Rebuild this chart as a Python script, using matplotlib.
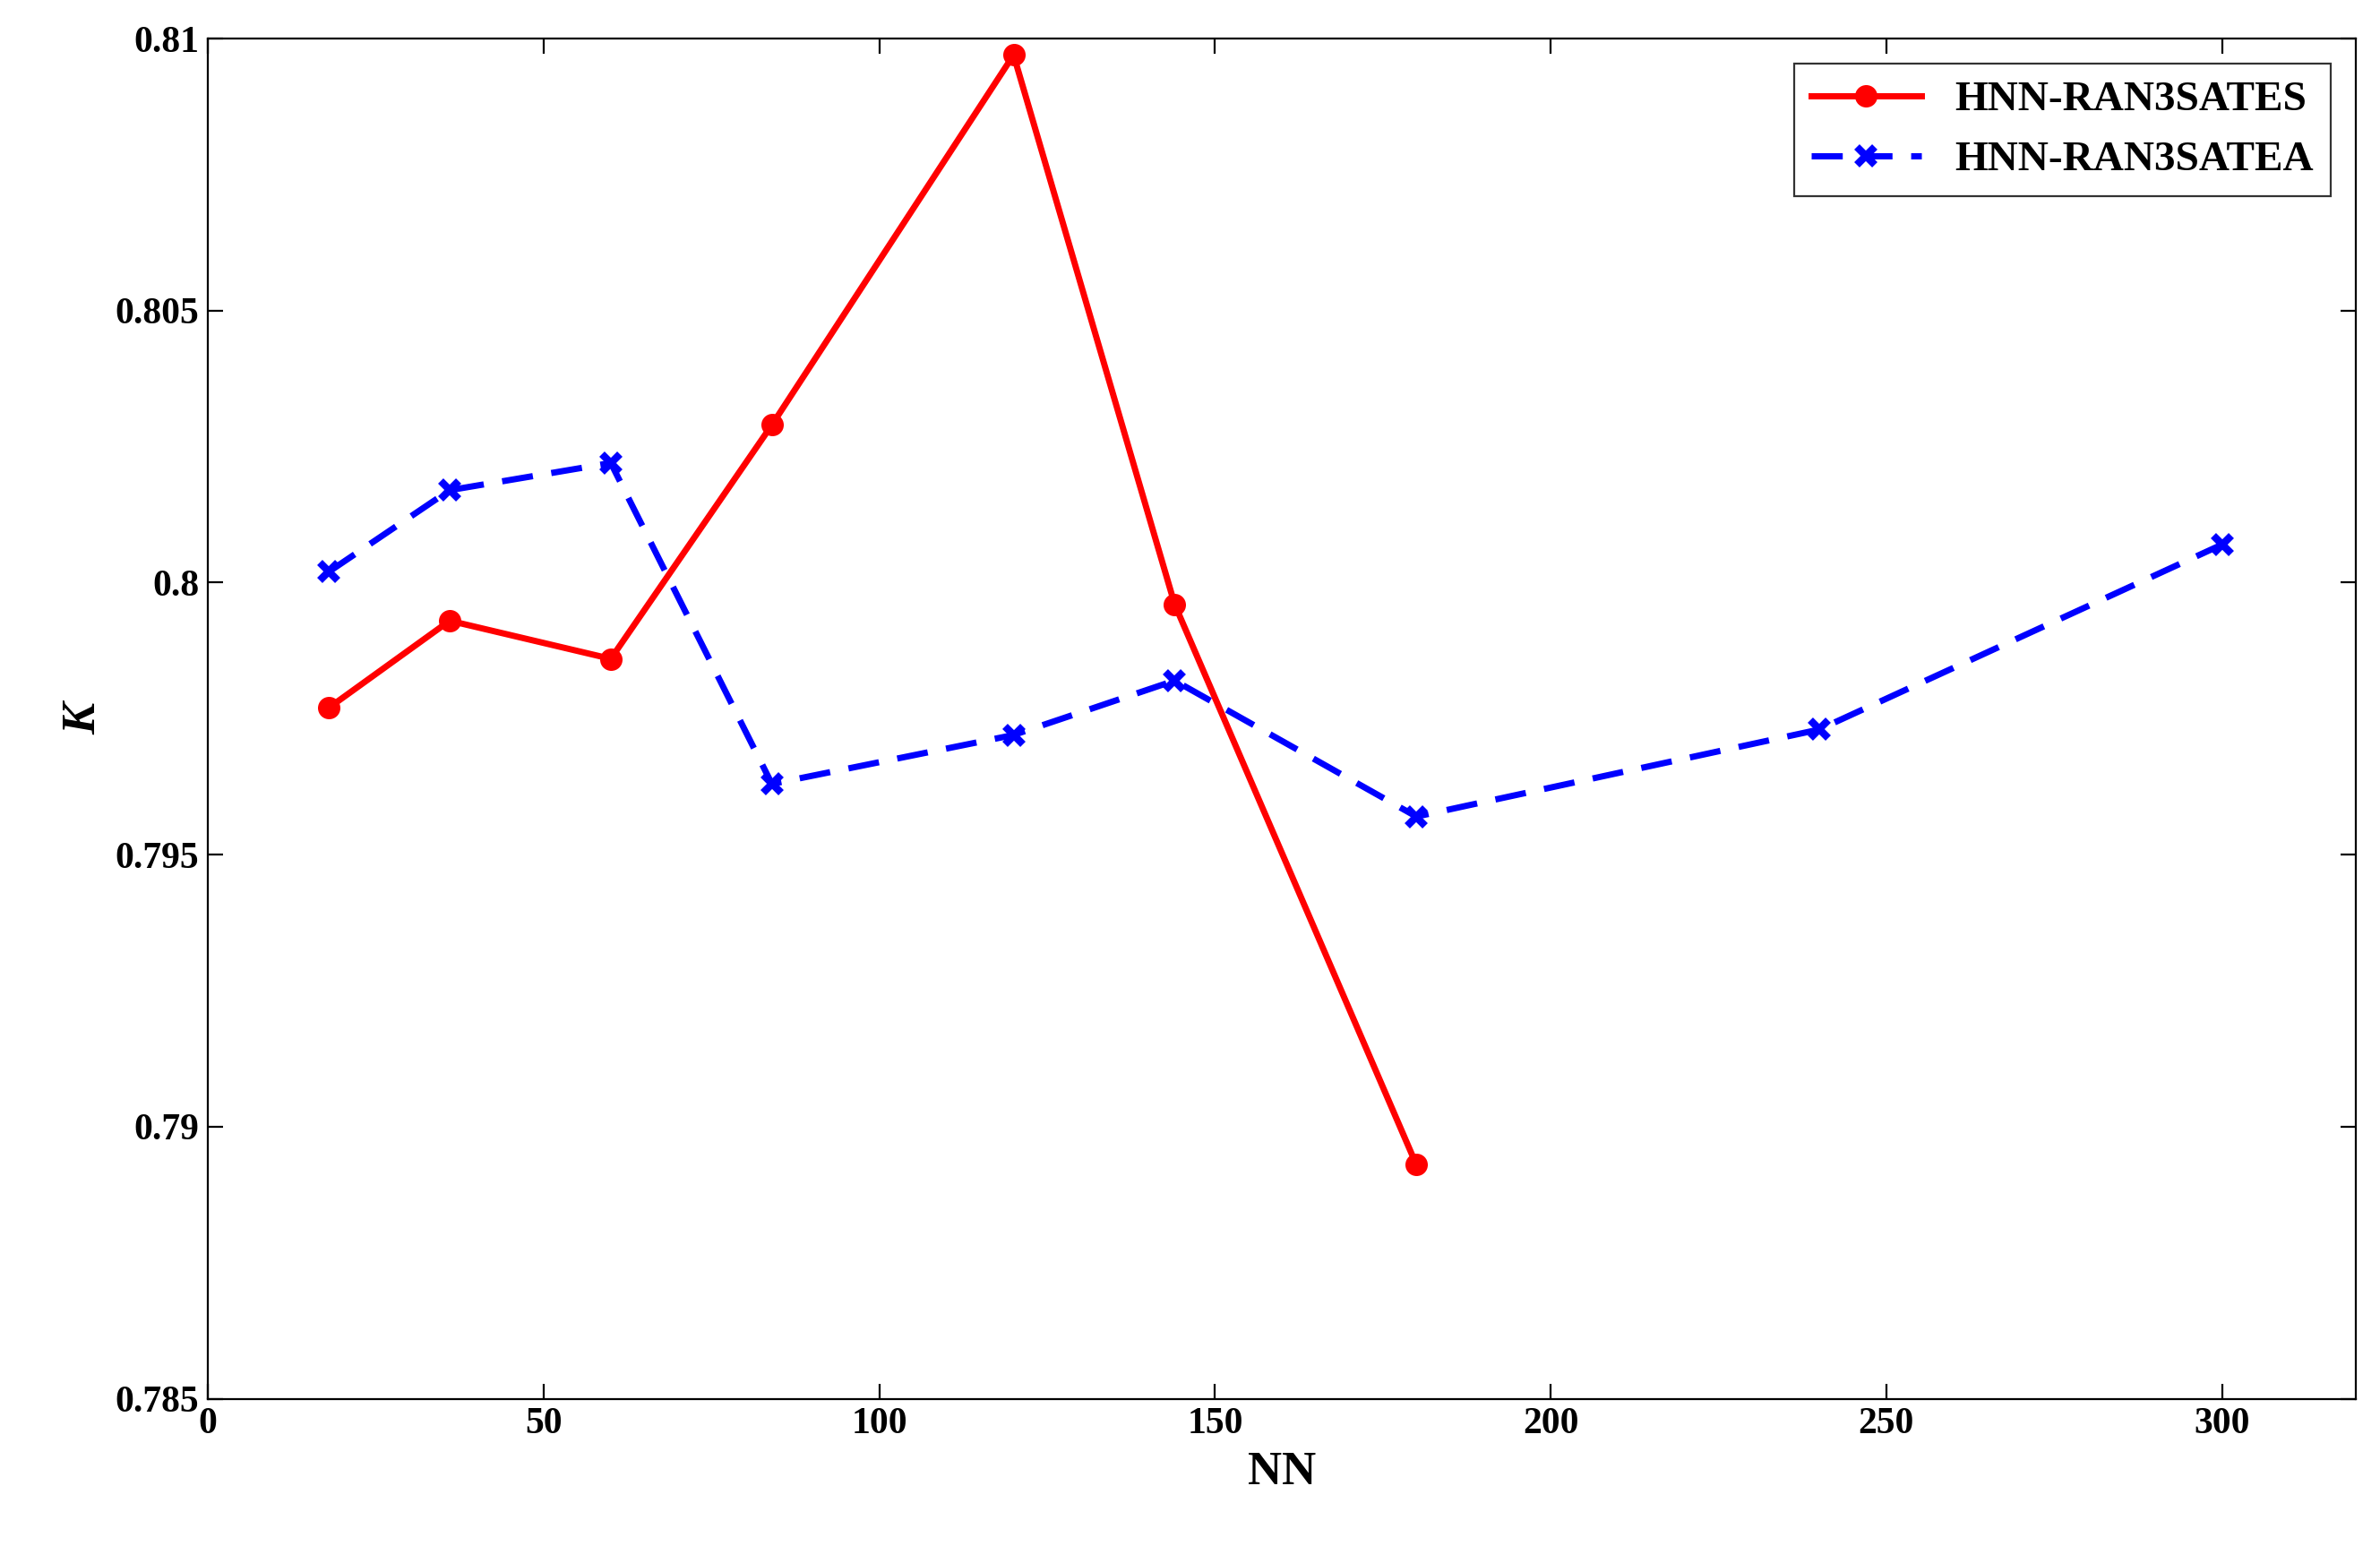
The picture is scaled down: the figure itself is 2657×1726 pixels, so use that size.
import matplotlib
matplotlib.use("Agg")
import matplotlib.pyplot as plt

x_s = [18, 36, 60, 84, 120, 144, 180]
y_s = [0.7977, 0.7993, 0.7986, 0.8029, 0.8097, 0.7996, 0.7893]
x_a = [18, 36, 60, 84, 120, 144, 180, 240, 300]
y_a = [0.8002, 0.8017, 0.8022, 0.7963, 0.7972, 0.7982, 0.7957, 0.7973, 0.8007]
xticks = [0, 50, 100, 150, 200, 250, 300]
yticks = [0.785, 0.79, 0.795, 0.8, 0.805, 0.81]
ylabels = ["0.785", "0.79", "0.795", "0.8", "0.805", "0.81"]

plt.rcParams['font.family'] = ['Liberation Serif', 'DejaVu Serif']
plt.rcParams['font.weight'] = 'bold'
fig = plt.figure(figsize=(13.285, 8.63), dpi=200)
ax = fig.add_axes([0.0874, 0.0953, 0.9026, 0.8797])
ax.plot(x_s, y_s, '-o', color='red', lw=2.5, ms=8, label='HNN-RAN3SATES')
ax.plot(x_a, y_a, '--x', color='blue', lw=2.5, ms=7, mew=3, label='HNN-RAN3SATEA', dashes=(5, 3))
ax.set_xlim(0, 320)
ax.set_ylim(0.785, 0.81)
ax.set_xticks(xticks)
ax.set_yticks(yticks)
ax.set_yticklabels(ylabels)
ax.tick_params(direction='in', top=True, right=True, labelsize=15, length=6)
for lab in ax.get_xticklabels() + ax.get_yticklabels():
    lab.set_fontweight('bold')
ax.set_xlabel('NN', fontsize=19, fontweight='bold')
ax.set_ylabel('K', fontsize=19, fontweight='bold', style='italic')
leg = ax.legend(loc='upper right', fontsize=17, fancybox=False, edgecolor='black',
                handlelength=2.6, borderaxespad=0.6)
leg.get_frame().set_linewidth(0.8)
fig.savefig('out.png', dpi=200)
